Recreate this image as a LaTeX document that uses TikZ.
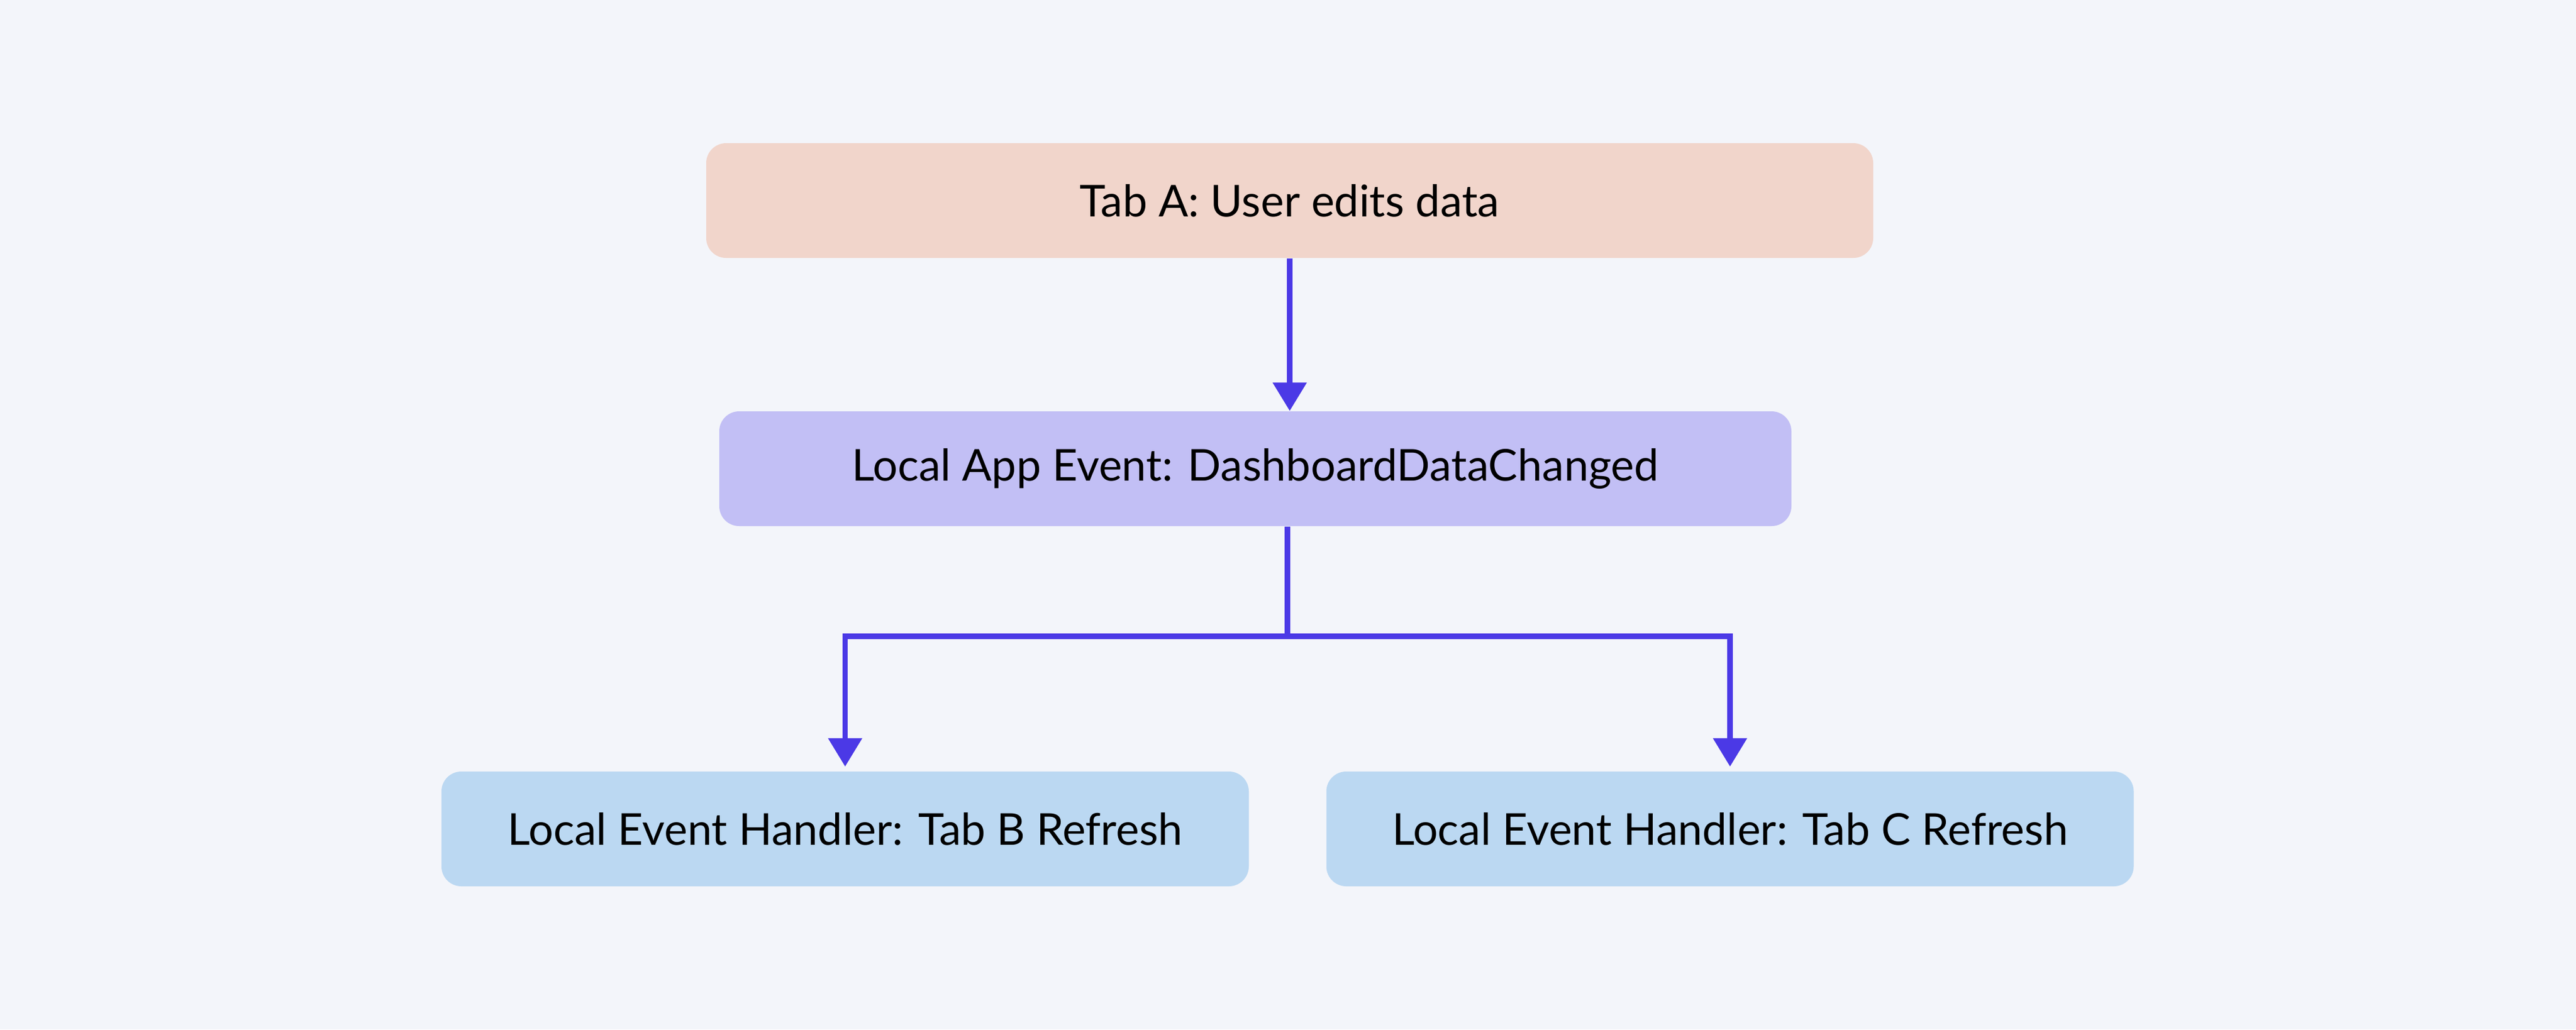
\documentclass[tikz,border=0pt]{standalone}
\usepackage{fontspec}
\setmainfont{Lato}
\usetikzlibrary{arrows.meta}
\definecolor{backdrop}{RGB}{243,245,250}
\definecolor{peach}{RGB}{241,213,203}
\definecolor{lavender}{RGB}{194,191,245}
\definecolor{skyblue}{RGB}{187,216,242}
\definecolor{wire}{RGB}{75,57,230}

\begin{document}
\begin{tikzpicture}[auto,
    block/.style ={rectangle, rounded corners=0.35cm, minimum height=2.02cm,
      inner sep=0pt, font=\fontsize{22}{26}\selectfont},
    trigger/.style ={block, fill=peach, minimum width=20.54cm},
    event/.style ={block, fill=lavender, minimum width=18.87cm},
    handler/.style ={block, fill=skyblue, minimum width=14.21cm},
    link/.style ={line width=2.6pt, wire, -{Triangle[length=0.5cm, width=0.58cm]}}]
   \fill[backdrop] (0,0) rectangle (45.34,-18.12);
   \node[trigger] (A) at (22.70,-3.53) {Tab A: User edits data};
   \node[event] (E) at (22.095,-8.25) {Local App Event: DashboardDataChanged};
   \node[handler] (B) at (14.875,-14.59) {Local Event Handler: Tab B Refresh};
   \node[handler] (C) at (30.45,-14.59) {Local Event Handler: Tab C Refresh};
   \coordinate (S) at (22.66,-11.20);
   \draw[link] (A.south) to (A.south |- E.north);
   \draw[link, shorten >=0.08cm] (S |- E.south) -- (S) -| (B.north);
   \draw[link, shorten >=0.08cm] (S) -| (C.north);
\end{tikzpicture}
\end{document}
